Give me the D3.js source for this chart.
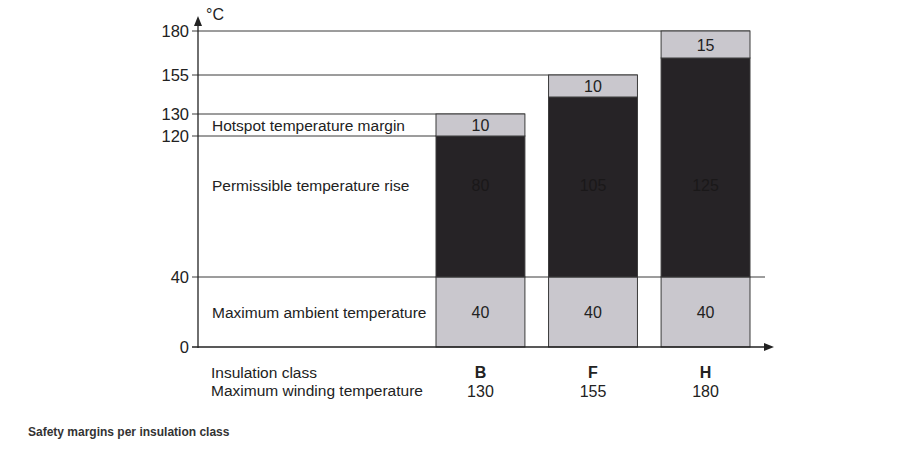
<!DOCTYPE html>
<html>
<head>
<meta charset="utf-8">
<script src="https://cdn.jsdelivr.net/npm/d3@7"></script>
<style>
  body { margin: 0; background: #fff; }
  svg { font-family: "Liberation Sans", Arial, sans-serif; }
</style>
</head>
<body>
<div id="chart"></div>
<script>
// Safety margins per insulation class

const classes = ["B", "F", "H"];
const maxWinding = [130, 155, 180];
const ambient = [40, 40, 40];
const rise = [80, 105, 125];
const hotspot = [10, 10, 15];
const yTicks = [0, 40, 120, 130, 155, 180];
const rowLabels = ["Hotspot temperature margin", "Permissible temperature rise", "Maximum ambient temperature"];

const width = 918;
const height = 453;

const svg = d3.select("#chart")
  .append("svg")
  .attr("width", width)
  .attr("height", height);

// The source drawing is schematic, so the axis is not linear: piecewise scale
const y = d3.scaleLinear()
  .domain([0, 40, 120, 130, 145, 155, 165, 180])
  .range([347, 277, 136, 114, 97, 75, 58, 31]);

const x = d3.scaleBand()
  .domain(classes)
  .range([436, 750])
  .paddingInner(0.21)
  .paddingOuter(0);

const axisX = 198;
const lineColor = "#3a3a3a";
const light = "#c9c7cd";
const dark = "#262326";
const riseLabelY = 191;

// stacked segments per class
const rows = classes.map((c, i) => {
  const segs = [
    { key: "ambient", y0: 0, y1: ambient[i], v: ambient[i] },
    { key: "rise", y0: ambient[i], y1: ambient[i] + rise[i], v: rise[i] },
    { key: "hotspot", y0: ambient[i] + rise[i], y1: ambient[i] + rise[i] + hotspot[i], v: hotspot[i] }
  ];
  return { c, segs };
});

// horizontal reference lines
const refLines = [
  { v: maxWinding[2], x2: x("H") + x.bandwidth() },
  { v: maxWinding[1], x2: x("F") + x.bandwidth() },
  { v: maxWinding[0], x2: x("B") + x.bandwidth() },
  { v: ambient[0] + rise[0], x2: x("B") },
  { v: ambient[0], x2: 765 }
];
svg.selectAll("line.ref")
  .data(refLines)
  .enter()
  .append("line")
  .attr("class", "ref")
  .attr("x1", axisX - 6)
  .attr("x2", d => d.x2)
  .attr("y1", d => y(d.v))
  .attr("y2", d => y(d.v))
  .attr("stroke", lineColor)
  .attr("stroke-width", 1);

// bars
const g = svg.selectAll("g.bar")
  .data(rows)
  .enter()
  .append("g")
  .attr("class", "bar");

g.selectAll("rect")
  .data(d => d.segs.map(s => ({ ...s, c: d.c })))
  .enter()
  .append("rect")
  .attr("x", d => x(d.c))
  .attr("width", x.bandwidth())
  .attr("y", d => y(d.y1))
  .attr("height", d => y(d.y0) - y(d.y1))
  .attr("fill", d => d.key === "rise" ? dark : light)
  .attr("stroke", lineColor)
  .attr("stroke-width", 1);

g.selectAll("text.val")
  .data(d => d.segs.map(s => ({ ...s, c: d.c })))
  .enter()
  .append("text")
  .attr("class", "val")
  .attr("x", d => x(d.c) + x.bandwidth() / 2)
  .attr("y", d => d.key === "rise" ? riseLabelY : (y(d.y0) + y(d.y1)) / 2 + 6)
  .attr("text-anchor", "middle")
  .style("font-size", "16px")
  .attr("fill", d => d.key === "rise" ? "#1a1819" : "#222")
  .text(d => d.v);

// axes
svg.append("line")
  .attr("x1", axisX).attr("x2", axisX)
  .attr("y1", y(0) + 1).attr("y2", 24)
  .attr("stroke", "#222").attr("stroke-width", 1.3);
svg.append("path")
  .attr("d", `M${axisX - 4},26 L${axisX},16 L${axisX + 4},26 Z`)
  .attr("fill", "#222");

svg.append("line")
  .attr("x1", axisX - 6).attr("x2", 766)
  .attr("y1", y(0)).attr("y2", y(0))
  .attr("stroke", "#222").attr("stroke-width", 1.3);
svg.append("path")
  .attr("d", `M764,${y(0) - 4} L774,${y(0)} L764,${y(0) + 4} Z`)
  .attr("fill", "#222");

svg.append("text")
  .attr("x", 206)
  .attr("y", 20)
  .style("font-size", "16px")
  .attr("fill", "#222")
  .text("°C");

// y tick labels
svg.selectAll("text.ytick")
  .data(yTicks)
  .enter()
  .append("text")
  .attr("class", "ytick")
  .attr("x", axisX - 9)
  .attr("y", d => y(d) + 6)
  .attr("text-anchor", "end")
  .style("font-size", "16.5px")
  .attr("fill", "#222")
  .text(d => d);

// row labels, placed beside the B bar segments
svg.selectAll("text.rowlab")
  .data(rows[0].segs.slice().reverse())
  .enter()
  .append("text")
  .attr("class", "rowlab")
  .attr("x", 212)
  .attr("y", d => d.key === "rise" ? riseLabelY : (y(d.y0) + y(d.y1)) / 2 + 6)
  .style("font-size", "15.5px")
  .attr("fill", "#222")
  .text((d, i) => rowLabels[i]);

// category labels
svg.append("text")
  .attr("x", 211).attr("y", 378)
  .style("font-size", "15.5px").attr("fill", "#222")
  .text("Insulation class");
svg.append("text")
  .attr("x", 211).attr("y", 396)
  .style("font-size", "15.5px").attr("fill", "#222")
  .text("Maximum winding temperature");

svg.selectAll("text.cls")
  .data(classes)
  .enter()
  .append("text")
  .attr("class", "cls")
  .attr("x", d => x(d) + x.bandwidth() / 2)
  .attr("y", 378)
  .attr("text-anchor", "middle")
  .style("font-size", "16px")
  .style("font-weight", "bold")
  .attr("fill", "#222")
  .text(d => d);

svg.selectAll("text.mw")
  .data(maxWinding)
  .enter()
  .append("text")
  .attr("class", "mw")
  .attr("x", (d, i) => x(classes[i]) + x.bandwidth() / 2)
  .attr("y", 397)
  .attr("text-anchor", "middle")
  .style("font-size", "16px")
  .attr("fill", "#222")
  .text(d => d);

// caption
svg.append("text")
  .attr("x", 28)
  .attr("y", 436)
  .style("font-size", "12px")
  .style("font-weight", "bold")
  .attr("fill", "#333")
  .text("Safety margins per insulation class");
</script>
</body>
</html>
